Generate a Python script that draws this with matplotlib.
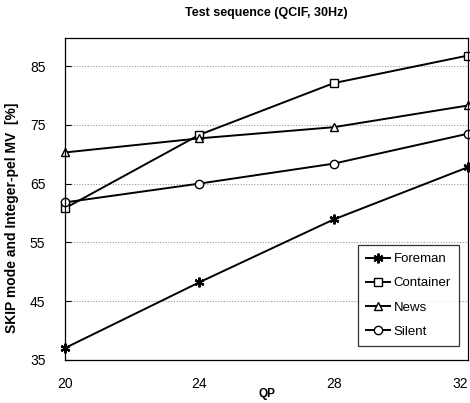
import matplotlib.pyplot as plt

plt.rcParams['font.family'] = ['Liberation Sans', 'DejaVu Sans']

# data
qp = [20, 24, 28, 32]
foreman = [37.0, 48.2, 58.9, 67.8]
container = [60.8, 73.3, 82.1, 86.8]
news = [70.3, 72.7, 74.6, 78.3]
silent = [61.8, 65.0, 68.4, 73.5]

fig = plt.figure(figsize=(4.7, 4.03), dpi=100)
ax = fig.add_axes([0.138, 0.107, 0.858, 0.799])

common = dict(color='black', linewidth=1.4, markersize=6, markerfacecolor='white',
              markeredgecolor='black', markeredgewidth=1.0, clip_on=False)
ax.plot(qp, foreman, marker=(6, 2, 0), label='Foreman',
        **{**common, 'markeredgewidth': 1.6, 'markersize': 7})
ax.plot(qp, container, marker='s', label='Container', **common)
ax.plot(qp, news, marker='^', label='News', **common)
ax.plot(qp, silent, marker='o', label='Silent', **common)

ax.set_xlim(20, 32)
ax.set_ylim(35, 89.8)
ax.set_xticks(qp)
ax.set_yticks([35, 45, 55, 65, 75, 85])
ax.tick_params(axis='y', direction='in', length=4, labelsize=10, pad=14)
ax.tick_params(axis='x', length=0, labelsize=10, pad=12)
labels = ax.get_xticklabels()
labels[-1].set_horizontalalignment('right')
ax.grid(axis='y', color='#999999', linestyle=(0, (1, 1.5)), linewidth=0.8)
for s in ax.spines.values():
    s.set_color('black')
    s.set_linewidth(0.9)

ax.set_title('Test sequence (QCIF, 30Hz)', fontsize=9, fontweight='bold', pad=16)
ax.set_xlabel('QP', fontsize=8.5, fontweight='bold', labelpad=-2)
ax.set_ylabel('SKIP mode and Integer-pel MV  [%]', fontsize=10, fontweight='bold')
ax.yaxis.set_label_coords(-0.113, 0.44)

leg = ax.legend(loc='lower right', bbox_to_anchor=(0.993, 0.024), fontsize=9.5,
                frameon=True, fancybox=False, edgecolor='black', handlelength=1.8,
                handletextpad=0.3, labelspacing=0.9, borderpad=0.6)
leg.get_frame().set_linewidth(0.9)

fig.savefig('out.png', dpi=100)
